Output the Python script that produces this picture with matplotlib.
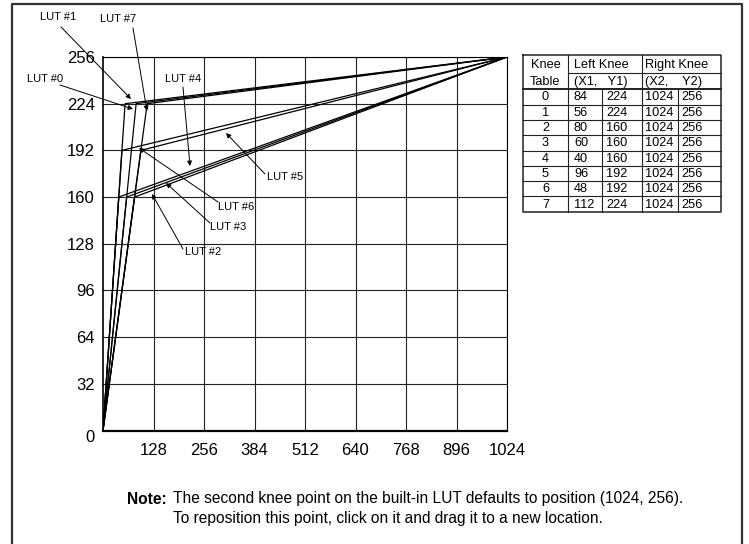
import numpy as np
import matplotlib
matplotlib.use("Agg")
import matplotlib.pyplot as plt
from matplotlib.transforms import ScaledTranslation

plt.rcParams['font.family'] = ['Liberation Sans', 'DejaVu Sans']

# knee table data
lut_ids = [0, 1, 2, 3, 4, 5, 6, 7]
knee_x1 = [84, 56, 80, 60, 40, 96, 48, 112]
knee_y1 = [224, 224, 160, 160, 160, 192, 192, 224]
knee_x2 = [1024, 1024, 1024, 1024, 1024, 1024, 1024, 1024]
knee_y2 = [256, 256, 256, 256, 256, 256, 256, 256]

x_ticks = [128, 256, 384, 512, 640, 768, 896, 1024]
y_ticks = [0, 32, 64, 96, 128, 160, 192, 224, 256]

W, H = 749, 544
fig = plt.figure(figsize=(W / 100, H / 100), dpi=100)

# main chart, placed in pixel terms
l, r, t, b = 103, 507, 57, 430.5
ax = fig.add_axes([l / W, 1 - b / H, (r - l) / W, (b - t) / H])
ax.set_xlim(0, 1024)
ax.set_ylim(0, 256)

for x1, y1, x2, y2 in zip(knee_x1, knee_y1, knee_x2, knee_y2):
    ax.plot([0, x1, x2], [0, y1, y2], color='black', lw=0.9, zorder=3)

ax.set_xticks(x_ticks)
ax.set_yticks(y_ticks)
ax.set_xticklabels([str(v) for v in x_ticks], fontsize=12)
ax.set_yticklabels([str(v) for v in y_ticks], fontsize=12)
ax.tick_params(length=0, pad=6)
ax.tick_params(axis='x', pad=9)
ax.grid(True, color='#222222', lw=0.8)
ax.set_axisbelow(True)
for s in ['top', 'right']:
    ax.spines[s].set_linewidth(0.8)
ax.spines['left'].set_linewidth(1.2)
ax.spines['bottom'].set_linewidth(1.6)

# push the "0" label down a bit like the original
lab0 = ax.get_yticklabels()[0]
lab0.set_transform(lab0.get_transform() + ScaledTranslation(0, -4 / 72, fig.dpi_scale_trans))

# overlay in pixel coordinates for frame, labels, table, note
ov = fig.add_axes([0, 0, 1, 1], zorder=5)
ov.set_xlim(0, W)
ov.set_ylim(H, 0)
ov.set_axis_off()
ov.patch.set_alpha(0)

ov.plot([12, 12, 742, 742], [H + 5, 4, 4, H + 5], color='#333333', lw=1.6, clip_on=False)

# LUT callouts: label, label centre, arrow tail, arrow head (pixels)
callouts = [
    ("LUT #1", (58, 17), (61, 27), (131, 99)),
    ("LUT #7", (118, 19), (133, 28), (147, 111)),
    ("LUT #0", (45, 79), (60, 85), (133, 109)),
    ("LUT #4", (183, 79), (183, 87), (190, 166)),
    ("LUT #5", (285, 177), (265, 174), (226, 133)),
    ("LUT #6", (236, 207), (218, 202), (139, 148)),
    ("LUT #3", (228, 227), (210, 223), (166, 183)),
    ("LUT #2", (203, 252), (183, 249), (152, 194)),
]
for name, pos, tail, head in callouts:
    ov.text(pos[0], pos[1], name, fontsize=8, ha='center', va='center')
    ov.annotate('', xy=head, xytext=tail,
                arrowprops=dict(arrowstyle='-|>', color='black', lw=0.7,
                                mutation_scale=7, shrinkA=0, shrinkB=0))

# knee table
cx = [523, 568, 602, 642, 678, 721]
ry = [55, 73.3, 89.3] + [89.3 + 15.3 * (i + 1) for i in range(len(lut_ids))]
tbl_fs = 9.2
lc = '#222222'
# outer box
ov.plot([cx[0], cx[-1], cx[-1], cx[0], cx[0]], [ry[0], ry[0], ry[-1], ry[-1], ry[0]],
        color=lc, lw=1.1)
# vertical lines
ov.plot([cx[1], cx[1]], [ry[0], ry[-1]], color=lc, lw=0.8)
ov.plot([cx[3], cx[3]], [ry[0], ry[-1]], color=lc, lw=0.8)
ov.plot([cx[2], cx[2]], [ry[2], ry[-1]], color=lc, lw=0.8)
ov.plot([cx[4], cx[4]], [ry[2], ry[-1]], color=lc, lw=0.8)
# horizontal lines
ov.plot([cx[1], cx[-1]], [ry[1], ry[1]], color=lc, lw=0.8)
ov.plot([cx[0], cx[-1]], [ry[2], ry[2]], color=lc, lw=1.4)
for yy in ry[3:-1]:
    ov.plot([cx[0], cx[-1]], [yy, yy], color=lc, lw=0.8)

ym1 = (ry[0] + ry[1]) / 2 + 0.5
ym2 = (ry[1] + ry[2]) / 2 + 0.5
ov.text((cx[0] + cx[1]) / 2, ym1, "Knee", fontsize=tbl_fs, ha='center', va='center')
ov.text((cx[0] + cx[1]) / 2, ym2, "Table", fontsize=tbl_fs, ha='center', va='center')
ov.text(cx[1] + 6, ym1, "Left Knee", fontsize=tbl_fs, ha='left', va='center')
ov.text(cx[1] + 6, ym2, "(X1,   Y1)", fontsize=tbl_fs, ha='left', va='center')
ov.text(cx[3] + 3, ym1, "Right Knee", fontsize=tbl_fs, ha='left', va='center')
ov.text(cx[3] + 3, ym2, "(X2,    Y2)", fontsize=tbl_fs, ha='left', va='center')

pads = [6, 4, 3, 3]
for i, lid in enumerate(lut_ids):
    yc = (ry[3 + i - 1] + ry[3 + i]) / 2 + 0.5
    ov.text((cx[0] + cx[1]) / 2, yc, str(lid), fontsize=tbl_fs, ha='center', va='center')
    vals = [knee_x1[i], knee_y1[i], knee_x2[i], knee_y2[i]]
    for j, v in enumerate(vals):
        ov.text(cx[1 + j] + pads[j], yc, str(v), fontsize=tbl_fs, ha='left', va='center')

# note
ov.text(127, 499, "Note:", fontsize=11.2, fontweight='bold', ha='left', va='center')
ov.text(173, 499, "The second knee point on the built-in LUT defaults to position (1024, 256).",
        fontsize=11.2, ha='left', va='center')
ov.text(173, 518, "To reposition this point, click on it and drag it to a new location.",
        fontsize=11.2, ha='left', va='center')

fig.savefig('out.png', dpi=100)
